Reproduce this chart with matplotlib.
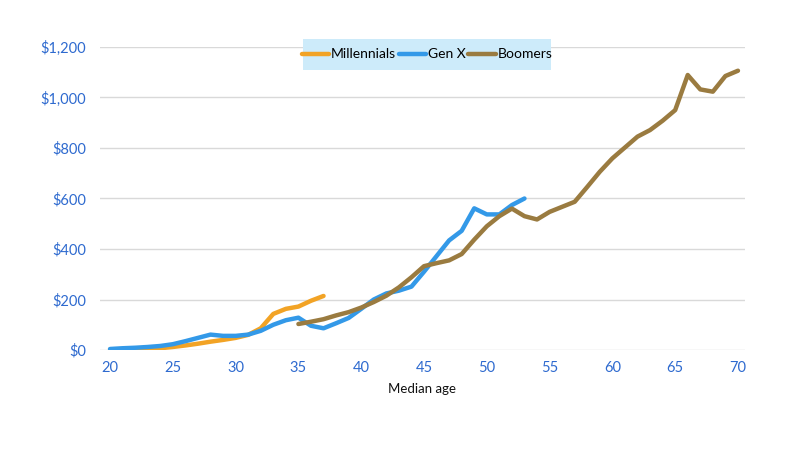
import matplotlib
matplotlib.use("Agg")
import matplotlib.pyplot as plt
from matplotlib.patches import Rectangle
from matplotlib.ticker import FuncFormatter

plt.rcParams['font.family'] = ['Lato', 'DejaVu Sans']

mill_age = list(range(20, 38))
mill_val = [2, 3, 4, 5, 7, 12, 18, 25, 33, 40, 48, 60, 86, 143, 163, 172, 195, 214]

genx_age = list(range(20, 54))
genx_val = [4, 7, 9, 12, 16, 23, 35, 48, 61, 56, 56, 61, 76, 100, 118, 128, 96, 86,
            106, 127, 163, 200, 224, 235, 251, 310, 372, 434, 472, 561, 537, 537, 574, 600]

boom_age = list(range(35, 71))
boom_val = [103, 112, 122, 137, 150, 168, 190, 215, 248, 288, 332, 344, 355, 380, 437, 490,
            530, 560, 530, 517, 547, 567, 587, 646, 706, 759, 802, 845, 871, 908, 950, 1089,
            1032, 1023, 1085, 1106]

series_names = ["Millennials", "Gen X", "Boomers"]
colors = ["#F2A325", "#3399E8", "#9A7B40"]

fig = plt.figure(figsize=(8, 4.5), dpi=100)
ax = fig.add_axes([0.125, 0.2222, 0.80625, 0.6734])

for (a, v), name, c in zip([(mill_age, mill_val), (genx_age, genx_val), (boom_age, boom_val)],
                           series_names, colors):
    ax.plot(a, v, color=c, lw=3.2, label=name, solid_capstyle='round', solid_joinstyle='round')

ax.set_xlim(19.2, 70.56)
ax.set_ylim(0, 1200)
ax.set_xticks(range(20, 71, 5))
ax.set_yticks(range(0, 1201, 200))
ax.yaxis.set_major_formatter(FuncFormatter(lambda v, p: "${:,.0f}".format(v)))
ax.grid(axis='y', color='#D9D9D9', lw=1)
ax.set_axisbelow(True)
for s in ax.spines.values():
    s.set_visible(False)
ax.tick_params(length=0, colors='#2E6ACF', labelsize=10.5)
ax.tick_params(axis='y', pad=10)
ax.tick_params(axis='x', pad=8)
ax.set_xlabel("Median age", fontsize=9.5, color='#111111', labelpad=6)

# legend background box
bg = Rectangle((303 / 800, (450 - 70) / 450), 248 / 800, 31 / 450, transform=fig.transFigure,
               facecolor='#CDEBFA', edgecolor='none', zorder=4, clip_on=False)
ax.add_patch(bg)

leg = ax.legend(loc='center', bbox_to_anchor=(427 / 800, (450 - 54.5) / 450),
                bbox_transform=fig.transFigure, ncol=3, frameon=False,
                fontsize=10, handlelength=2.0, handletextpad=0.1, columnspacing=0.2,
                borderpad=0, borderaxespad=0)
leg.set_zorder(5)

fig.savefig("out.png", dpi=100)
